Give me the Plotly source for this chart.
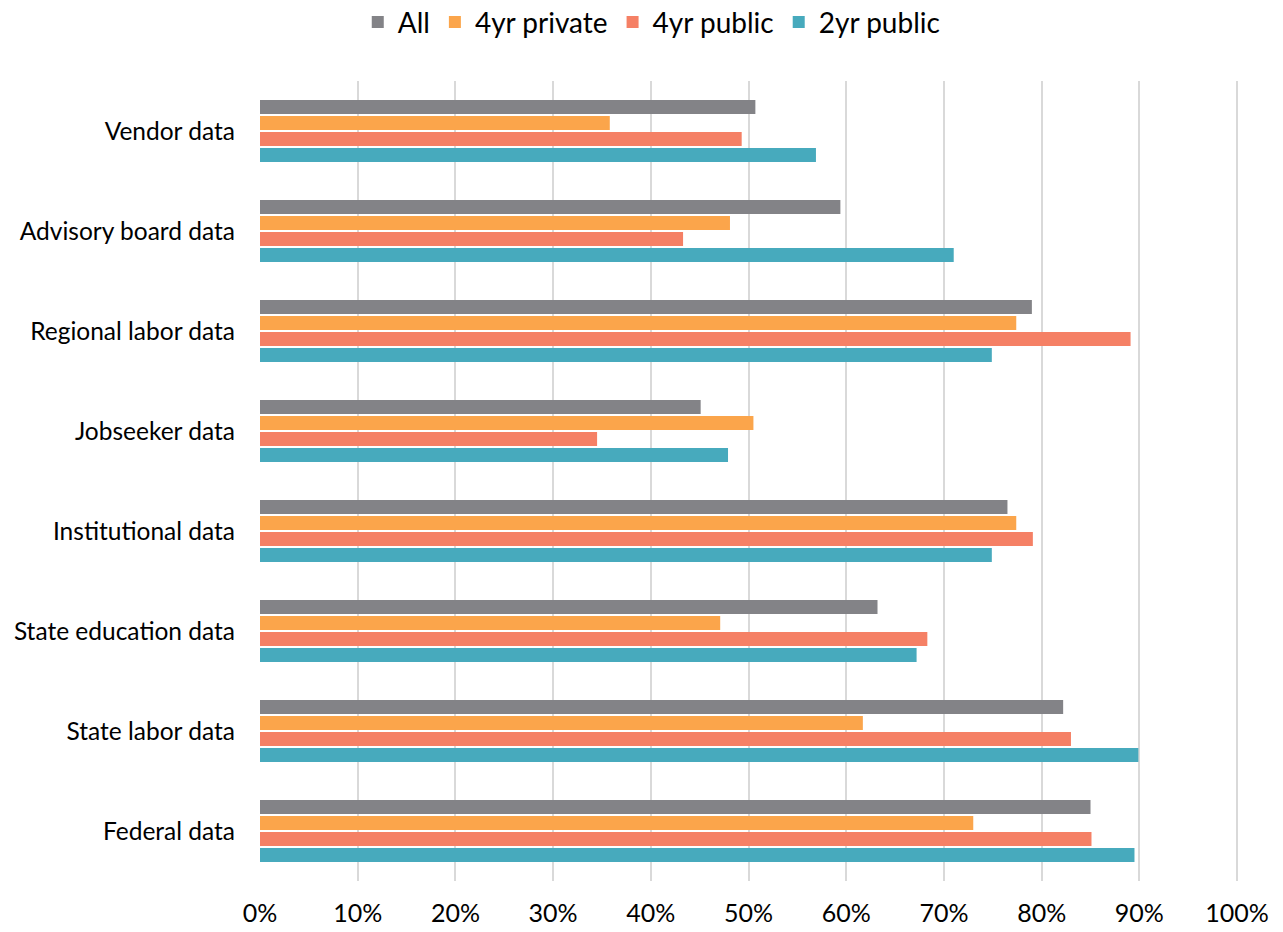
import plotly.graph_objects as go

# Data sources (top to bottom) and share of institutions using each, by sector
categories = [
    "Vendor data",
    "Advisory board data",
    "Regional labor data",
    "Jobseeker data",
    "Institutional data",
    "State education data",
    "State labor data",
    "Federal data",
]
all_inst = [0.507, 0.594, 0.790, 0.451, 0.765, 0.632, 0.822, 0.850]
private_4yr = [0.358, 0.481, 0.774, 0.505, 0.774, 0.471, 0.617, 0.730]
public_4yr = [0.493, 0.433, 0.891, 0.345, 0.791, 0.683, 0.830, 0.851]
public_2yr = [0.569, 0.710, 0.749, 0.479, 0.749, 0.672, 0.899, 0.895]

series = [
    ("All", all_inst, "#838387"),
    ("4yr private", private_4yr, "#FBA54B"),
    ("4yr public", public_4yr, "#F58065"),
    ("2yr public", public_2yr, "#47AABD"),
]

x_ticks = [i / 10 for i in range(11)]
x_tick_labels = [f"{i * 10}%" for i in range(11)]

FONT = "Lato, 'Open Sans', sans-serif"

fig = go.Figure()
for name, values, color in series:
    fig.add_trace(go.Bar(
        y=categories,
        x=values,
        name=name,
        orientation="h",
        marker=dict(color=color, line=dict(width=0)),
        hoverinfo="x+y+name",
    ))

fig.update_layout(
    width=1283,
    height=932,
    barmode="group",
    bargap=0.36,
    bargroupgap=0.12,
    plot_bgcolor="white",
    paper_bgcolor="white",
    margin=dict(l=260, r=43, t=81, b=51, autoexpand=False),
    font=dict(family=FONT, color="#000000"),
    legend=dict(
        orientation="h",
        xref="container",
        yref="container",
        x=0.508,
        y=0.976,
        xanchor="center",
        yanchor="middle",
        font=dict(size=28, family=FONT),
        itemwidth=30,
        tracegroupgap=0,
    ),
    xaxis=dict(
        range=[0, 1.003],
        tickvals=x_ticks,
        ticktext=x_tick_labels,
        showgrid=True,
        gridcolor="#D9D9D9",
        gridwidth=2,
        zeroline=False,
        showline=False,
        ticks="",
        automargin=False,
        ticklabelstandoff=15,
        tickfont=dict(size=25, family=FONT),
    ),
    yaxis=dict(
        autorange="reversed",
        showgrid=False,
        showline=False,
        ticks="",
        automargin=False,
        ticklabelstandoff=24,
        tickfont=dict(size=24.5, family=FONT),
    ),
)

fig.write_html("out.html")
